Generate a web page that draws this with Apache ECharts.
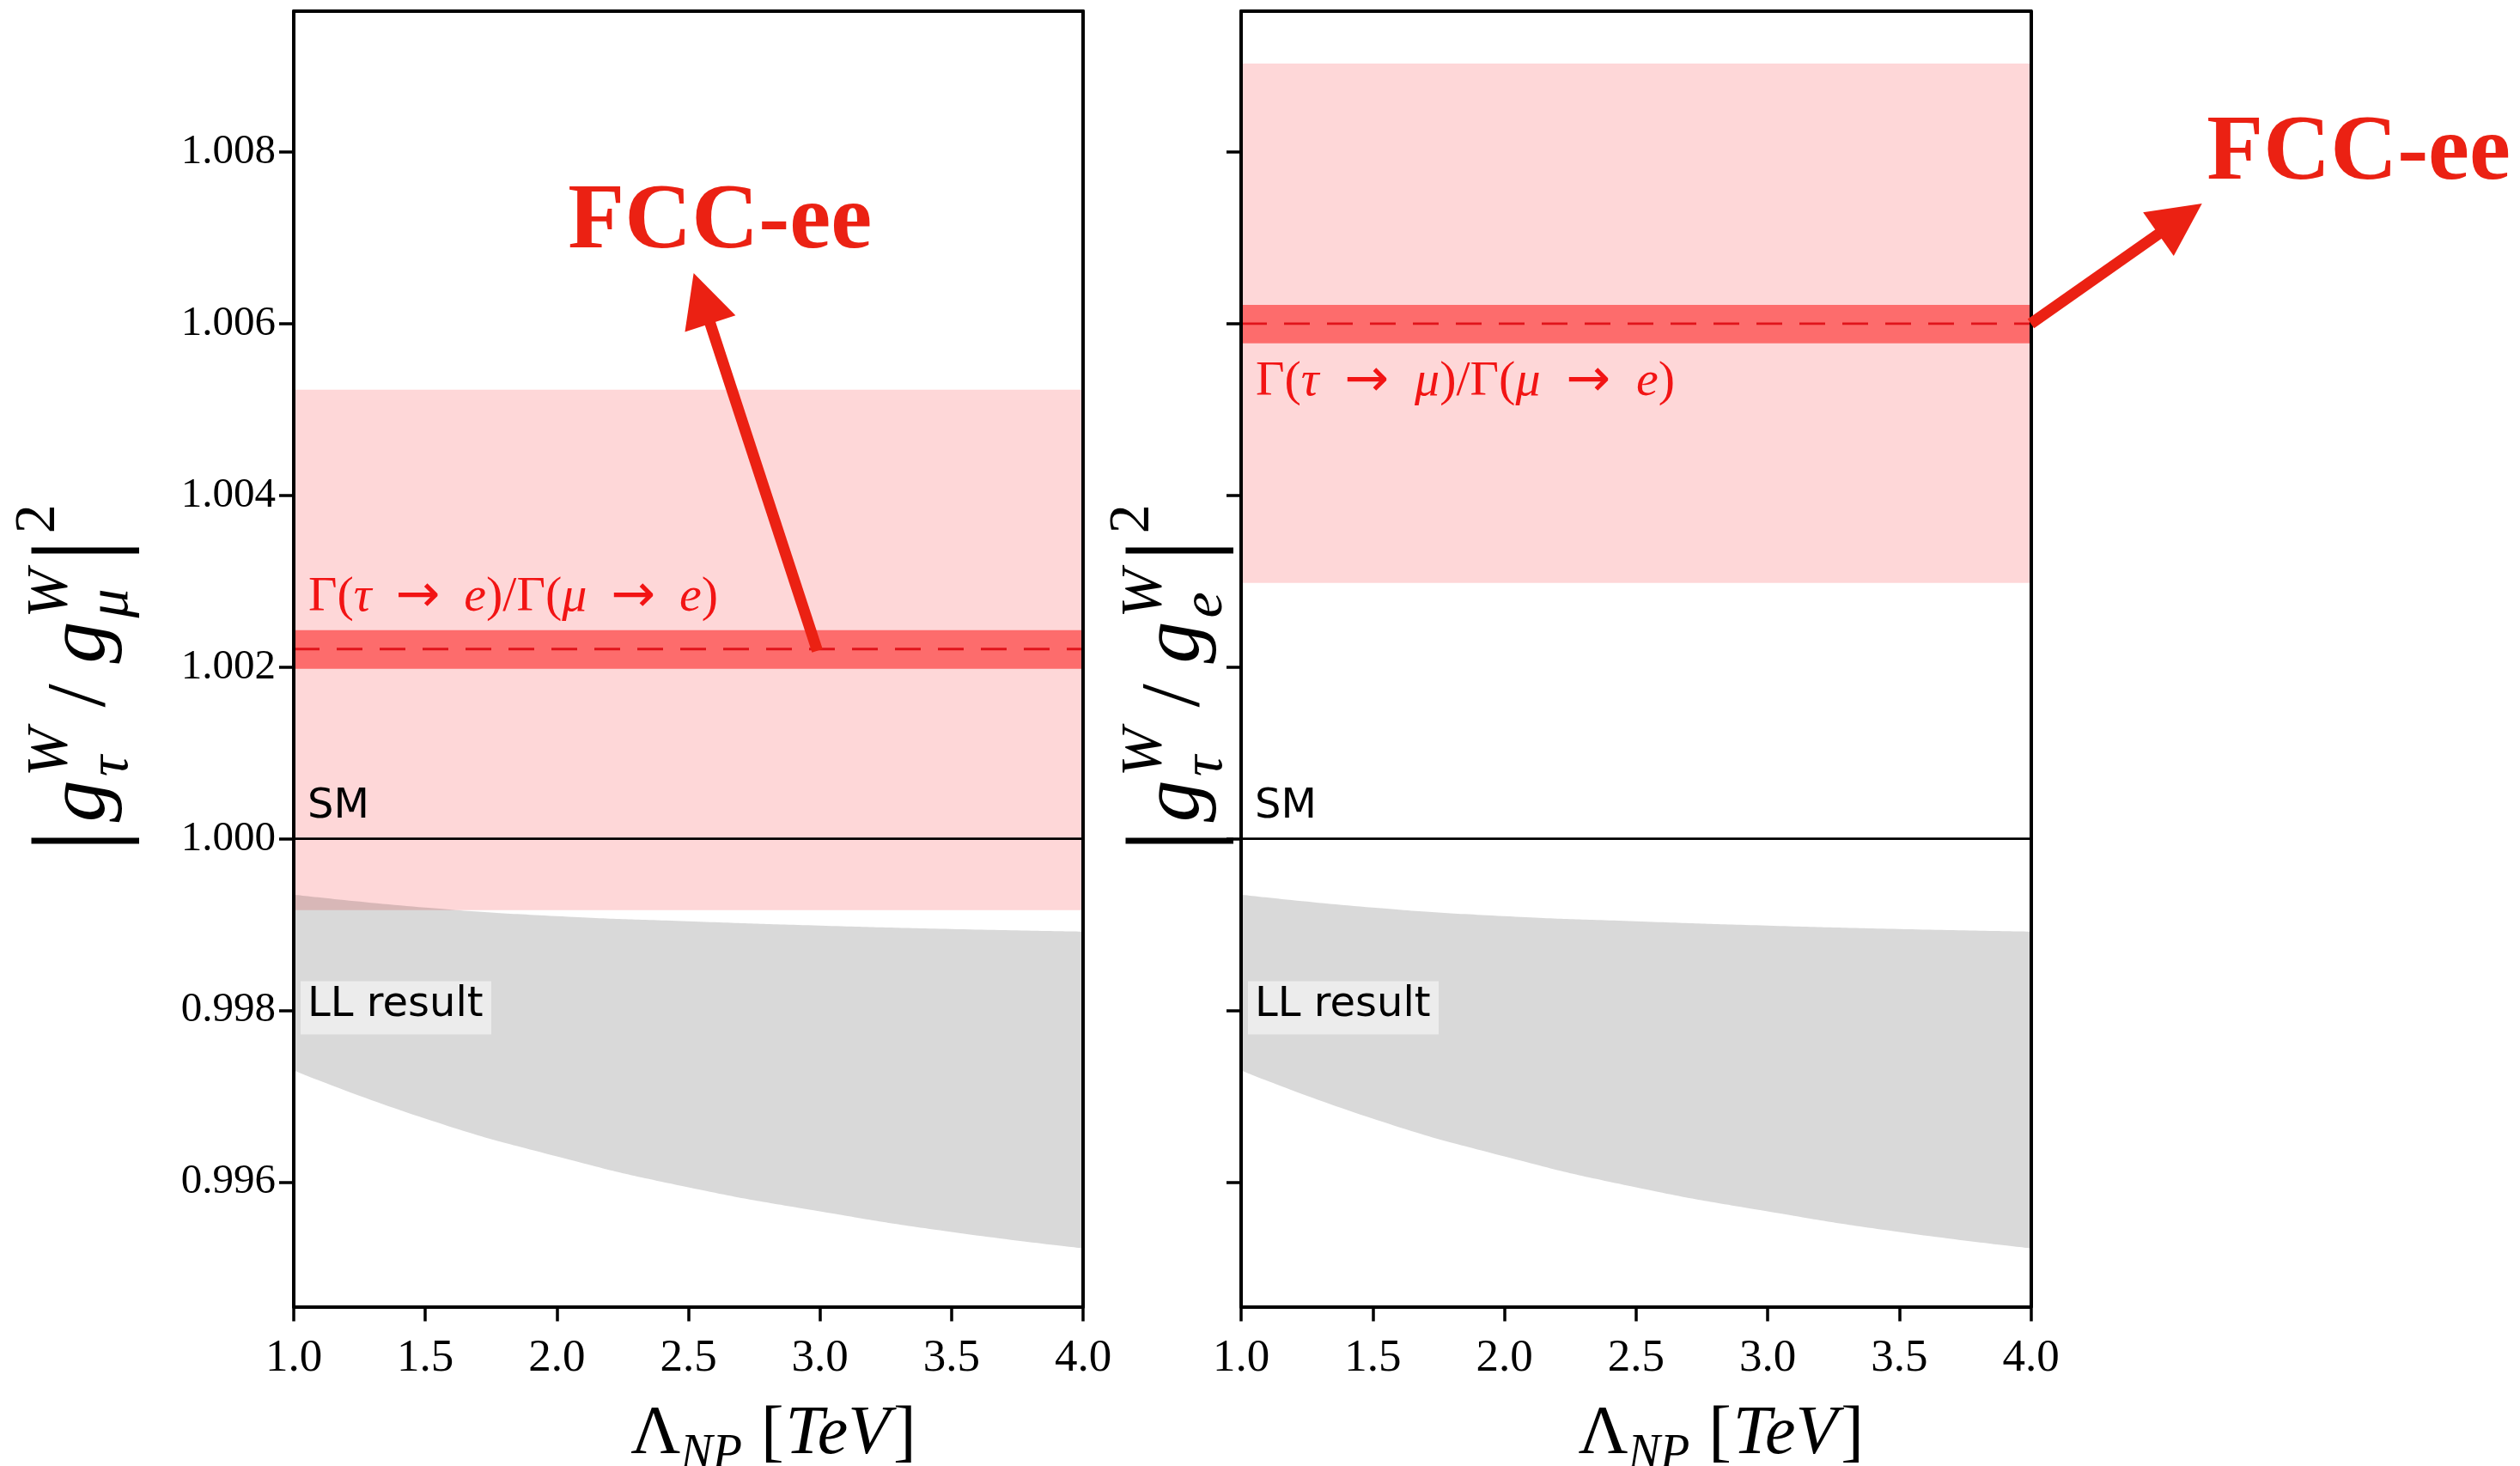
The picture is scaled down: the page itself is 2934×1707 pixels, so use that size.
<!DOCTYPE html>
<html><head><meta charset="utf-8">
<script src="https://cdn.jsdelivr.net/npm/echarts@6/dist/echarts.min.js"></script>
<style>html,body{margin:0;padding:0;background:#fff}#c{width:2934px;height:1707px}</style>
</head><body><div id="c"></div>
<script>
// ---------------- data ----------------
const lambdaRange = [1, 4];
const yRange = [0.99455, 1.00964];
const yTicks = [0.996, 0.998, 1.000, 1.002, 1.004, 1.006, 1.008];
const llLambda = [1.0, 1.5, 2.0, 2.5, 3.0, 3.5, 4.0];
const llUpper  = [0.99935, 0.99920, 0.99910, 0.99904, 0.99899, 0.99895, 0.99892];
const llLower  = [0.99730, 0.99674, 0.99630, 0.99594, 0.99566, 0.99542, 0.99523];
const smValue = 1.0;
const tauEWide = [0.99917, 1.00523];
const tauENarrow = [1.00198, 1.00243];
const tauECentral = 1.00221;
const tauMuWide = [1.00298, 1.00903];
const tauMuNarrow = [1.00577, 1.00622];
const tauMuCentral = 1.0060;
const arrowLeft = [[2.99, 1.00219], [2.52, 1.00659]];   // tail, tip
const arrowRight = [[4.0, 1.0060], [4.65, 1.00740]];
const fccLeftPos = [2.62, 1.00717];
const fccRightPos = [5.245, 1.00797];
const labelTauE = ['τ', 'e'];
const labelTauMu = ['τ', 'μ'];

// ---------------- layout ----------------
const SERIF = '"Liberation Serif", "Times New Roman", serif';
const SANS = '"DejaVu Sans", sans-serif';
const GRIDS = [
  {left: 342, top: 13, width: 919, height: 1508.5},
  {left: 1445, top: 13, width: 919.5, height: 1508.5}
];
const WIDE = '#FED7D8', NARROW = '#FD6C6C', GRAY = 'rgba(0,0,0,0.15)';
const RED = '#EB2113', LRED = '#F21414';

const chart = echarts.init(document.getElementById('c'), null, {renderer: 'canvas'});

function xAxes(gi, labels) {
  return [
    {gridIndex: gi, type: 'value', min: lambdaRange[0], max: lambdaRange[1], interval: 0.5, position: 'bottom', z: 10,
      axisLine: {show: true, onZero: false, lineStyle: {color: '#000', width: 4}},
      axisTick: {show: true, length: 17, lineStyle: {color: '#000', width: 3.5}},
      axisLabel: {show: labels, margin: 34, color: '#000', fontFamily: SERIF, fontSize: 53, formatter: v => v.toFixed(1)},
      splitLine: {show: false}},
    {gridIndex: gi, type: 'value', min: lambdaRange[0], max: lambdaRange[1], position: 'top', z: 10,
      axisLine: {show: true, onZero: false, lineStyle: {color: '#000', width: 4}},
      axisTick: {show: false}, axisLabel: {show: false}, splitLine: {show: false}}
  ];
}
function yAxes(gi, labels) {
  return [
    {gridIndex: gi, type: 'value', min: yRange[0], max: yRange[1], position: 'left', z: 10,
      axisLine: {show: true, onZero: false, lineStyle: {color: '#000', width: 4}},
      axisTick: {show: true, length: 17, customValues: yTicks, lineStyle: {color: '#000', width: 3.5}},
      axisLabel: {show: labels, margin: 21, customValues: yTicks, color: '#000', fontFamily: SERIF, fontSize: 49, formatter: v => v.toFixed(3)},
      splitLine: {show: false}},
    {gridIndex: gi, type: 'value', min: yRange[0], max: yRange[1], position: 'right', z: 10,
      axisLine: {show: true, onZero: false, lineStyle: {color: '#000', width: 4}},
      axisTick: {show: false}, axisLabel: {show: false}, splitLine: {show: false}}
  ];
}

function bandSeries(ai, range, color, z) {
  return {
    type: 'custom', xAxisIndex: ai, yAxisIndex: ai, z: z, silent: true,
    data: [[lambdaRange[0], range[0], lambdaRange[1], range[1]]],
    encode: {x: [0, 2], y: [1, 3]},
    renderItem: (params, api) => {
      const p0 = api.coord([api.value(0), api.value(3)]);
      const p1 = api.coord([api.value(2), api.value(1)]);
      return {type: 'rect', shape: {x: p0[0], y: p0[1], width: p1[0] - p0[0], height: p1[1] - p0[1]}, style: {fill: color}};
    }
  };
}
// LL band: gray area under the upper curve, then white area under the lower curve
function llSeries(ai) {
  return [
    {type: 'line', xAxisIndex: ai, yAxisIndex: ai, z: 3, silent: true, smooth: 0.5, symbol: 'none',
      lineStyle: {opacity: 0}, areaStyle: {color: GRAY, opacity: 1, origin: 'start'},
      data: llLambda.map((x, i) => [x, llUpper[i]])},
    {type: 'line', xAxisIndex: ai, yAxisIndex: ai, z: 3.5, silent: true, smooth: 0.5, symbol: 'none',
      lineStyle: {opacity: 0}, areaStyle: {color: '#ffffff', opacity: 1, origin: 'start'},
      data: llLambda.map((x, i) => [x, llLower[i]])}
  ];
}
function hLine(ai, v, color, width, type, z) {
  return {type: 'line', xAxisIndex: ai, yAxisIndex: ai, z: z, silent: true, symbol: 'none',
    lineStyle: {color: color, width: width, type: type},
    data: [[lambdaRange[0], v], [lambdaRange[1], v]]};
}

const series = [
  bandSeries(0, tauEWide, WIDE, 1),
  bandSeries(0, tauENarrow, NARROW, 2),
  ...llSeries(0),
  hLine(0, smValue, '#000', 2.8, 'solid', 4),
  hLine(0, tauECentral, '#E0141B', 2.8, [30, 20], 4),
  bandSeries(2, tauMuWide, WIDE, 1),
  bandSeries(2, tauMuNarrow, NARROW, 2),
  ...llSeries(2),
  hLine(2, smValue, '#000', 2.8, 'solid', 4),
  hLine(2, tauMuCentral, '#E0141B', 2.8, [30, 20], 4)
];

chart.setOption({
  animation: false,
  backgroundColor: '#fff',
  grid: GRIDS.map(g => Object.assign({containLabel: false}, g)),
  xAxis: [...xAxes(0, true), ...xAxes(1, true)],
  yAxis: [...yAxes(0, true), ...yAxes(1, false)],
  series: series
});

// ---------------- annotations ----------------
const mctx = document.createElement('canvas').getContext('2d');
function tw(t, font) { mctx.font = font; return mctx.measureText(t).width; }
function fontOf(s, it, bold) { return (it ? 'italic ' : '') + (bold ? 'bold ' : '') + s + 'px ' + SERIF; }

// pieces: {t, s, it, dy, gap, noAdv, adv}
function mathGroup(pieces, cx, cy, rotation) {
  let x = 0; const els = [];
  for (const p of pieces) {
    x += p.gap || 0;
    const font = fontOf(p.s, p.it);
    els.push({x: x, dy: p.dy || 0, t: p.t, font: font, s: p.s});
    const w = tw(p.t, font);
    if (!p.noAdv) x += (p.adv != null ? Math.max(p.adv, w) : w);
  }
  const total = x;
  return {
    type: 'group', x: cx, y: cy, rotation: rotation || 0, silent: true,
    children: els.map(e => ({
      type: 'text', x: e.x - total / 2, y: e.dy - 0.33 * e.s,
      style: {text: e.t, font: e.font, fill: '#000', align: 'left', verticalAlign: 'middle'}
    }))
  };
}

function yTitle(subLetter, cx, cy) {
  const B = 98, S = 68;
  const wW = tw('W', fontOf(S, true));
  return mathGroup([
    {t: '|', s: 1.4 * B, dy: 0.15 * B},
    {t: 'g', s: B, it: true, gap: 8},
    {t: 'W', s: S, it: true, dy: -0.47 * B, noAdv: true, gap: 4},
    {t: 'τ', s: S, it: true, dy: 0.25 * B, adv: wW},
    {t: '/', s: B, gap: 24},
    {t: 'g', s: B, it: true, gap: 24},
    {t: 'W', s: S, it: true, dy: -0.47 * B, noAdv: true, gap: 4},
    {t: subLetter, s: S, it: true, dy: 0.25 * B, adv: wW},
    {t: '|', s: 1.4 * B, dy: 0.15 * B, gap: 8},
    {t: '2', s: S, dy: -0.62 * B, gap: 6}
  ], cx, cy, Math.PI / 2);
}
function xTitle(cx, cy) {
  const B = 80, S = 56;
  return mathGroup([
    {t: 'Λ', s: B},
    {t: 'NP', s: S, it: true, dy: 0.2 * B},
    {t: '[', s: B, gap: 22},
    {t: 'TeV', s: B, it: true, gap: 2},
    {t: ']', s: B, gap: 4}
  ], cx, cy, 0);
}

function px(ai, pt) { return chart.convertToPixel({xAxisIndex: ai, yAxisIndex: ai}, pt); }

function arrow(ai, tailD, tipD) {
  const a = px(ai, tailD), b = px(ai, tipD);
  const dx = b[0] - a[0], dy = b[1] - a[1], L = Math.hypot(dx, dy);
  const ux = dx / L, uy = dy / L, nx = -uy, ny = ux;
  const HL = 62, HW = 62, SW = 13;
  const bx = b[0] - ux * HL, by = b[1] - uy * HL;
  return [
    {type: 'line', silent: true, z: 50, shape: {x1: a[0], y1: a[1], x2: bx + ux * 4, y2: by + uy * 4},
      style: {stroke: RED, lineWidth: SW, lineCap: 'butt'}},
    {type: 'polygon', silent: true, z: 50, shape: {points: [[b[0], b[1]], [bx + nx * HW / 2, by + ny * HW / 2], [bx - nx * HW / 2, by - ny * HW / 2]]},
      style: {fill: RED}}
  ];
}

// Γ(a → b)/Γ(μ → e), arrow padding chosen so the label spans targetW pixels
function gammaLabel(letters, x, y, targetW) {
  const F = 58, FA = 62;
  const nf = F + 'px ' + SERIF, itf = 'italic ' + F + 'px ' + SERIF, af = FA + 'px ' + SANS;
  const seq = [['n', 'Γ('], ['i', letters[0]], ['a', '→'], ['i', letters[1]], ['n', ')/Γ('], ['i', 'μ'], ['a', '→'], ['i', 'e'], ['n', ')']];
  let nat = 0;
  seq.forEach(([k, t]) => { nat += tw(t, k === 'n' ? nf : k === 'i' ? itf : af); });
  const pad = Math.max(4, (targetW - nat) / 4);
  const text = seq.map(([k, t]) => '{' + k + '|' + t + '}').join('');
  return {type: 'text', x: x, y: y, silent: true, z: 20,
    style: {text: text, align: 'left', verticalAlign: 'middle',
      rich: {
        n: {fontFamily: SERIF, fontSize: F, fill: LRED},
        i: {fontFamily: SERIF, fontSize: F, fontStyle: 'italic', fill: LRED},
        a: {fontFamily: SANS, fontSize: FA, fill: LRED, padding: [0, pad, 0, pad]}
      }}};
}

const gfx = [];
GRIDS.forEach((g, k) => {
  const ai = k * 2;
  const sm = px(ai, [lambdaRange[0], smValue]);
  gfx.push({type: 'text', x: g.left + 16, y: sm[1] - 37, silent: true, z: 20,
    style: {text: 'SM', font: '48px ' + SANS, fill: '#000', align: 'left', verticalAlign: 'middle'}});
  const ll = px(ai, [lambdaRange[0], 0.998]);
  gfx.push({type: 'rect', silent: true, z: 19, shape: {x: g.left + 8, y: ll[1] - 34, width: 222, height: 62},
    style: {fill: 'rgba(255,255,255,0.5)'}});
  gfx.push({type: 'text', x: g.left + 16, y: ll[1] - 6, silent: true, z: 20,
    style: {text: 'LL result', font: '48px ' + SANS, fill: '#000', align: 'left', verticalAlign: 'middle'}});
  gfx.push(xTitle(g.left + g.width / 2 + 99, 1697));
});
gfx.push(gammaLabel(labelTauE, GRIDS[0].left + 17, px(0, [1, tauENarrow[1]])[1] - 38, 477));
gfx.push(gammaLabel(labelTauMu, GRIDS[1].left + 17, px(2, [1, tauMuNarrow[0]])[1] + 45, 488));
gfx.push(yTitle('μ', 128, 790));
gfx.push(yTitle('e', 1402, 790));
gfx.push(...arrow(0, arrowLeft[0], arrowLeft[1]));
gfx.push(...arrow(2, arrowRight[0], arrowRight[1]));
const fl = px(0, fccLeftPos), fr = px(2, fccRightPos);
[fl, fr].forEach(p => gfx.push({type: 'text', x: p[0], y: p[1], silent: true, z: 50,
  style: {text: 'FCC-ee', font: 'bold 108px ' + SERIF, fill: RED, align: 'center', verticalAlign: 'middle'}}));

chart.setOption({graphic: {elements: gfx}});
</script>
</body></html>
